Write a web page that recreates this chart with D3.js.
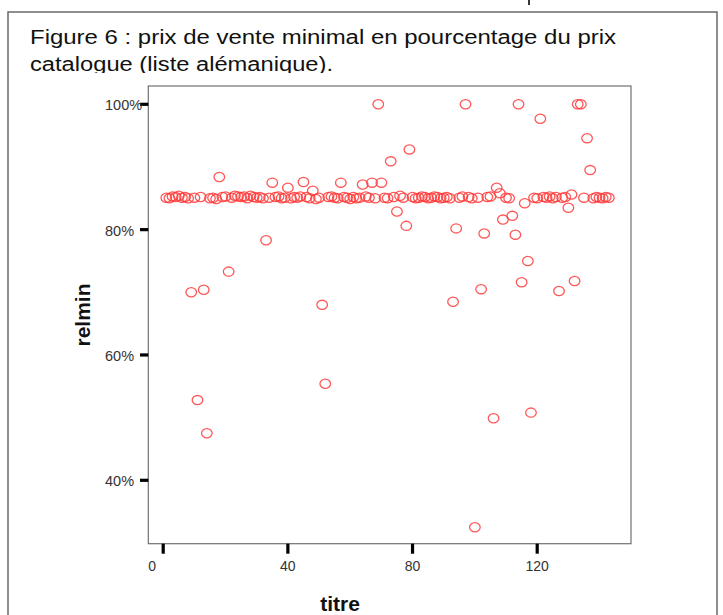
<!DOCTYPE html>
<html><head><meta charset="utf-8">
<script src="https://cdn.jsdelivr.net/npm/d3@7"></script>
<style>
html,body{margin:0;padding:0;background:#fff;}
svg{display:block;font-family:"Liberation Sans",Arial,sans-serif;}
</style></head>
<body>
<svg id="c" width="723" height="615"></svg>
<script>
const titleLines = ["Figure 6 : prix de vente minimal en pourcentage du prix", "catalogue (liste alémanique)."];
const xLabel = "titre";
const yLabel = "relmin";
const xTicks = [0, 40, 80, 120];
const yTicks = [40, 60, 80, 100];
const titre = [
  1,2,3,4,5,6,7,8,9,10,
  11,12,13,14,15,16,17,18,19,20,
  21,22,23,24,25,26,27,28,29,30,
  31,32,33,34,35,36,37,38,39,40,
  41,42,43,44,45,46,47,48,49,50,
  51,52,53,54,55,56,57,58,59,60,
  61,62,63,64,65,66,67,68,69,70,
  71,72,73,74,75,76,77,78,79,80,
  81,82,83,84,85,86,87,88,89,90,
  91,92,93,94,95,96,97,98,99,100,
  101,102,103,104,105,106,107,108,109,110,
  111,112,113,114,115,116,117,118,119,120,
  121,122,123,124,125,126,127,128,129,130,
  131,132,133,134,135,136,137,138,139,140,
  141,142,143
];
const relmin = [
  85.1,85.0,85.3,85.2,85.4,85.1,85.2,85.0,70.0,85.1,
  52.8,85.2,70.4,47.5,85.0,85.1,84.9,88.4,85.2,85.3,
  73.3,85.1,85.4,85.3,85.2,85.3,85.0,85.4,85.2,85.1,
  85.2,85.0,78.3,85.1,87.5,85.2,85.3,85.0,85.1,86.7,
  85.0,85.2,85.1,85.3,87.6,85.2,85.0,86.2,84.9,85.1,
  68.0,55.4,85.2,85.3,85.1,85.0,87.5,85.2,85.1,84.9,
  85.2,85.0,85.1,87.2,85.3,85.1,87.5,85.0,100.0,87.5,
  85.1,85.0,90.9,85.2,82.9,85.4,85.1,80.6,92.8,85.2,
  85.0,85.1,85.3,85.2,85.0,85.1,85.3,85.2,85.0,85.1,
  85.2,85.0,68.5,80.2,85.1,85.3,100.0,85.2,85.0,32.5,
  85.1,70.5,79.4,85.2,85.3,49.9,86.7,85.8,81.6,85.1,
  85.0,82.2,79.2,100.0,71.6,84.2,75.0,50.8,85.1,85.0,
  97.7,85.2,85.1,85.3,85.0,85.2,70.2,85.1,85.2,83.5,
  85.6,71.8,100.0,100.0,85.1,94.6,89.5,85.0,85.2,85.1,
  85.0,85.2,85.1
];

const svg = d3.select("#c");
svg.append("rect").attr("width",723).attr("height",615).attr("fill","#fff");

// outer box
svg.append("path").attr("d","M8,615 V12 H717 V615").attr("fill","none").attr("stroke","#6a6a6a").attr("stroke-width",1.5);

// small fragment of a cut-off glyph at the very top
svg.append("path").attr("d","M529,0 V5").attr("stroke","#222").attr("stroke-width",1.8);

// title, clipped
svg.append("clipPath").attr("id","tclip").append("rect").attr("x",0).attr("y",13).attr("width",723).attr("height",60);
const tg = svg.append("g").attr("clip-path","url(#tclip)");
tg.append("text").attr("x",30).attr("y",44).attr("font-size",20).attr("fill","#111")
  .attr("textLength",586).attr("lengthAdjust","spacingAndGlyphs").text(titleLines[0]);
tg.append("text").attr("x",30).attr("y",71).attr("font-size",20).attr("fill","#111")
  .attr("textLength",303).attr("lengthAdjust","spacingAndGlyphs").text(titleLines[1]);

const frame = {l:148.3, r:631, t:86, b:543.7};
const x = d3.scaleLinear().domain([0,120]).range([163.2,537.2]);
const y = d3.scaleLinear().domain([40,100]).range([480.3,104.3]);

// frame
svg.append("rect").attr("x",frame.l).attr("y",frame.t).attr("width",frame.r-frame.l).attr("height",frame.b-frame.t)
  .attr("fill","none").attr("stroke","#707070").attr("stroke-width",1.2);

// y axis ticks
const ya = svg.append("g");
ya.selectAll("line").data(yTicks).join("line")
  .attr("x1",140).attr("x2",frame.l).attr("y1",d=>y(d)).attr("y2",d=>y(d))
  .attr("stroke","#000").attr("stroke-width",3.2);
ya.selectAll("text").data(yTicks).join("text")
  .attr("x",105).attr("y",d=>y(d)+6).attr("font-size",14.5).attr("fill","#333")
  .text(d=>d+"%");

// x axis ticks
const xa = svg.append("g");
xa.selectAll("line").data(xTicks).join("line")
  .attr("x1",d=>x(d)).attr("x2",d=>x(d)).attr("y1",frame.b).attr("y2",frame.b+10)
  .attr("stroke","#000").attr("stroke-width",3.2);
xa.selectAll("text").data(xTicks).join("text")
  .attr("x",d=>d===0? x(d)-11 : x(d)).attr("y",frame.b+27).attr("font-size",14).attr("fill","#333")
  .attr("text-anchor","middle").text(d=>d);

// axis titles
svg.append("text").attr("x",340).attr("y",611).attr("text-anchor","middle")
  .attr("font-size",21).attr("font-weight","bold").attr("fill","#111").text(xLabel);
svg.append("text").attr("transform","translate(90,315) rotate(-90)").attr("text-anchor","middle")
  .attr("font-size",21).attr("font-weight","bold").attr("fill","#111").text(yLabel);

// points
svg.append("g").selectAll("ellipse").data(titre.map((t,i)=>[t,relmin[i]])).join("ellipse")
  .attr("cx",d=>x(d[0])).attr("cy",d=>y(d[1])).attr("rx",5.3).attr("ry",4.6)
  .attr("fill","none").attr("stroke","#ff3a3a").attr("stroke-opacity",0.85).attr("stroke-width",1.3);
</script>
</body></html>
